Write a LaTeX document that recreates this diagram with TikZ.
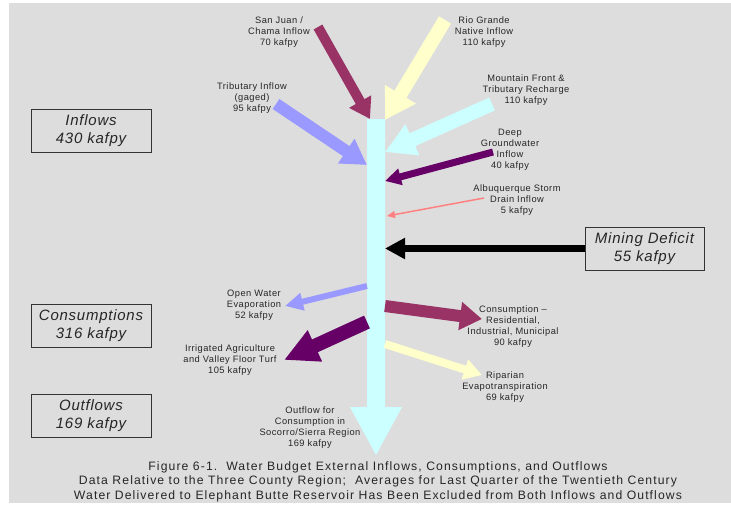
\documentclass[tikz,border=0pt]{standalone}
\usepackage{fontspec}
\setmainfont{Liberation Sans}
\newfontfamily\lblfont[LetterSpace=5]{Liberation Sans}
\newfontfamily\boxfont[LetterSpace=5]{Liberation Sans}
\newfontfamily\capfont[LetterSpace=9]{Liberation Sans}
\usetikzlibrary{arrows.meta}
\definecolor{bgc}{HTML}{DDDDDD}
\definecolor{wine}{HTML}{993366}
\definecolor{cream}{HTML}{FFFFCC}
\definecolor{lav}{HTML}{9999FF}
\definecolor{icecyan}{HTML}{CCFFFF}
\definecolor{plum}{HTML}{660066}
\definecolor{salmon}{HTML}{FF8080}
\tikzset{
  lbl/.style={align=center, font=\lblfont\fontsize{9.3}{11}\selectfont, inner sep=0pt, text=black!85},
  sumbox/.style={draw=black!80, line width=0.9pt, minimum width=120pt, minimum height=43pt,
    align=center, inner sep=0pt, font=\boxfont\fontsize{15}{18}\selectfont\itshape, text=black!85},
  blk/.style n args={4}{draw=#1, line width=#2, -{Triangle[length=#4, width=#3]}},
}
\begin{document}
\begin{tikzpicture}[x=1pt,y=-1pt]
\useasboundingbox (0,0) rectangle (731,506);
\fill[bgc] (9,3) rectangle (731,503);

% trunk
\fill[icecyan] (367,119) -- (385,119) -- (385,407) -- (402,407) -- (376,455) -- (350,407) -- (367,407) -- cycle;

% summary boxes
\node[sumbox] (inflows) at (91,130.5) {Inflows\\430 kafpy};
\node[sumbox] (cons) at (91,325.5) {Consumptions\\316 kafpy};
\node[sumbox] (outf) at (91,416) {Outflows\\169 kafpy};
\node[sumbox, minimum width=119pt] (mining) at (644.5,248.5) {Mining Deficit\\55 kafpy};

% labels
\node[lbl] (sj) at (279,32.5) {San Juan /\\Chama Inflow\\70 kafpy};
\node[lbl] (rg) at (484,32.5) {Rio Grande\\Native Inflow\\110 kafpy};
\node[lbl] (ti) at (252,98.5) {Tributary Inflow\\(gaged)\\95 kafpy};
\node[lbl] (mf) at (526,90) {Mountain Front \&\\Tributary Recharge\\110 kafpy};
\node[lbl] (dg) at (510,149.5) {Deep\\Groundwater\\Inflow\\40 kafpy};
\node[lbl] (sd) at (517,200) {Albuquerque Storm\\Drain Inflow\\5 kafpy};
\node[lbl] (ow) at (254,305) {Open Water\\Evaporation\\52 kafpy};
\node[lbl] (ia) at (230,360) {Irrigated Agriculture\\and Valley Floor Turf\\105 kafpy};
\node[lbl] (cr) at (513,326.5) {Consumption \textendash\\Residential,\\Industrial, Municipal\\90 kafpy};
\node[lbl] (rp) at (505,387.5) {Riparian\\Evapotranspiration\\69 kafpy};
\node[lbl] (oc) at (310,427.5) {Outflow for\\Consumption in\\Socorro/Sierra Region\\169 kafpy};

% arrow end points
\coordinate (sjA) at (318,27);   \coordinate (sjB) at (370,119);
\coordinate (rgA) at (445,20);   \coordinate (rgB) at (385,120);
\coordinate (tiA) at (276,104);  \coordinate (tiB) at (367,165);
\coordinate (mfA) at (492,104);  \coordinate (mfB) at (385,152);
\coordinate (dgA) at (493,152);  \coordinate (dgB) at (385,181);
\coordinate (sdA) at (484,198);  \coordinate (sdB) at (387,216);
\coordinate (miB) at (385,248.5);
\coordinate (owA) at (367,286);  \coordinate (owB) at (285,306);
\coordinate (iaA) at (367,322);  \coordinate (iaB) at (284,360);
\coordinate (crA) at (385,306);  \coordinate (crB) at (482,319);
\coordinate (rpA) at (385,344);  \coordinate (rpB) at (482,375);

% inflow arrows
\draw[blk={wine}{10pt}{24pt}{20pt}] (sjA) -- (sjB);
\draw[blk={cream}{14pt}{34pt}{30pt}] (rgA) -- (rgB);
\draw[blk={lav}{12pt}{28pt}{25pt}] (tiA) -- (tiB);
\draw[blk={icecyan}{14pt}{32pt}{30pt}] (mfA) -- (mfB);
\draw[blk={plum}{7pt}{16pt}{16pt}] (dgA) -- (dgB);
\draw[blk={salmon}{1.5pt}{7pt}{8pt}] (sdA) -- (sdB);
\draw[blk={black}{7pt}{20pt}{20pt}] (mining.west) -- (miB);

% outgoing arrows
\draw[blk={lav}{6pt}{17pt}{18pt}] (owA) -- (owB);
\draw[blk={plum}{14pt}{32pt}{34pt}] (iaA) -- (iaB);
\draw[blk={wine}{12pt}{27pt}{22pt}] (crA) -- (crB);
\draw[blk={cream}{8pt}{20pt}{18pt}] (rpA) -- (rpB);

% caption
\node[align=center, inner sep=0pt, font=\capfont\fontsize{12.2}{14.5}\selectfont, text=black!85] (cap) at (378,481.5)
 {Figure 6-1.\ \ Water Budget External Inflows, Consumptions, and Outflows\\
  Data Relative to the Three County Region;\ \ Averages for Last Quarter of the Twentieth Century\\
  Water Delivered to Elephant Butte Reservoir Has Been Excluded from Both Inflows and Outflows};
\end{tikzpicture}
\end{document}
